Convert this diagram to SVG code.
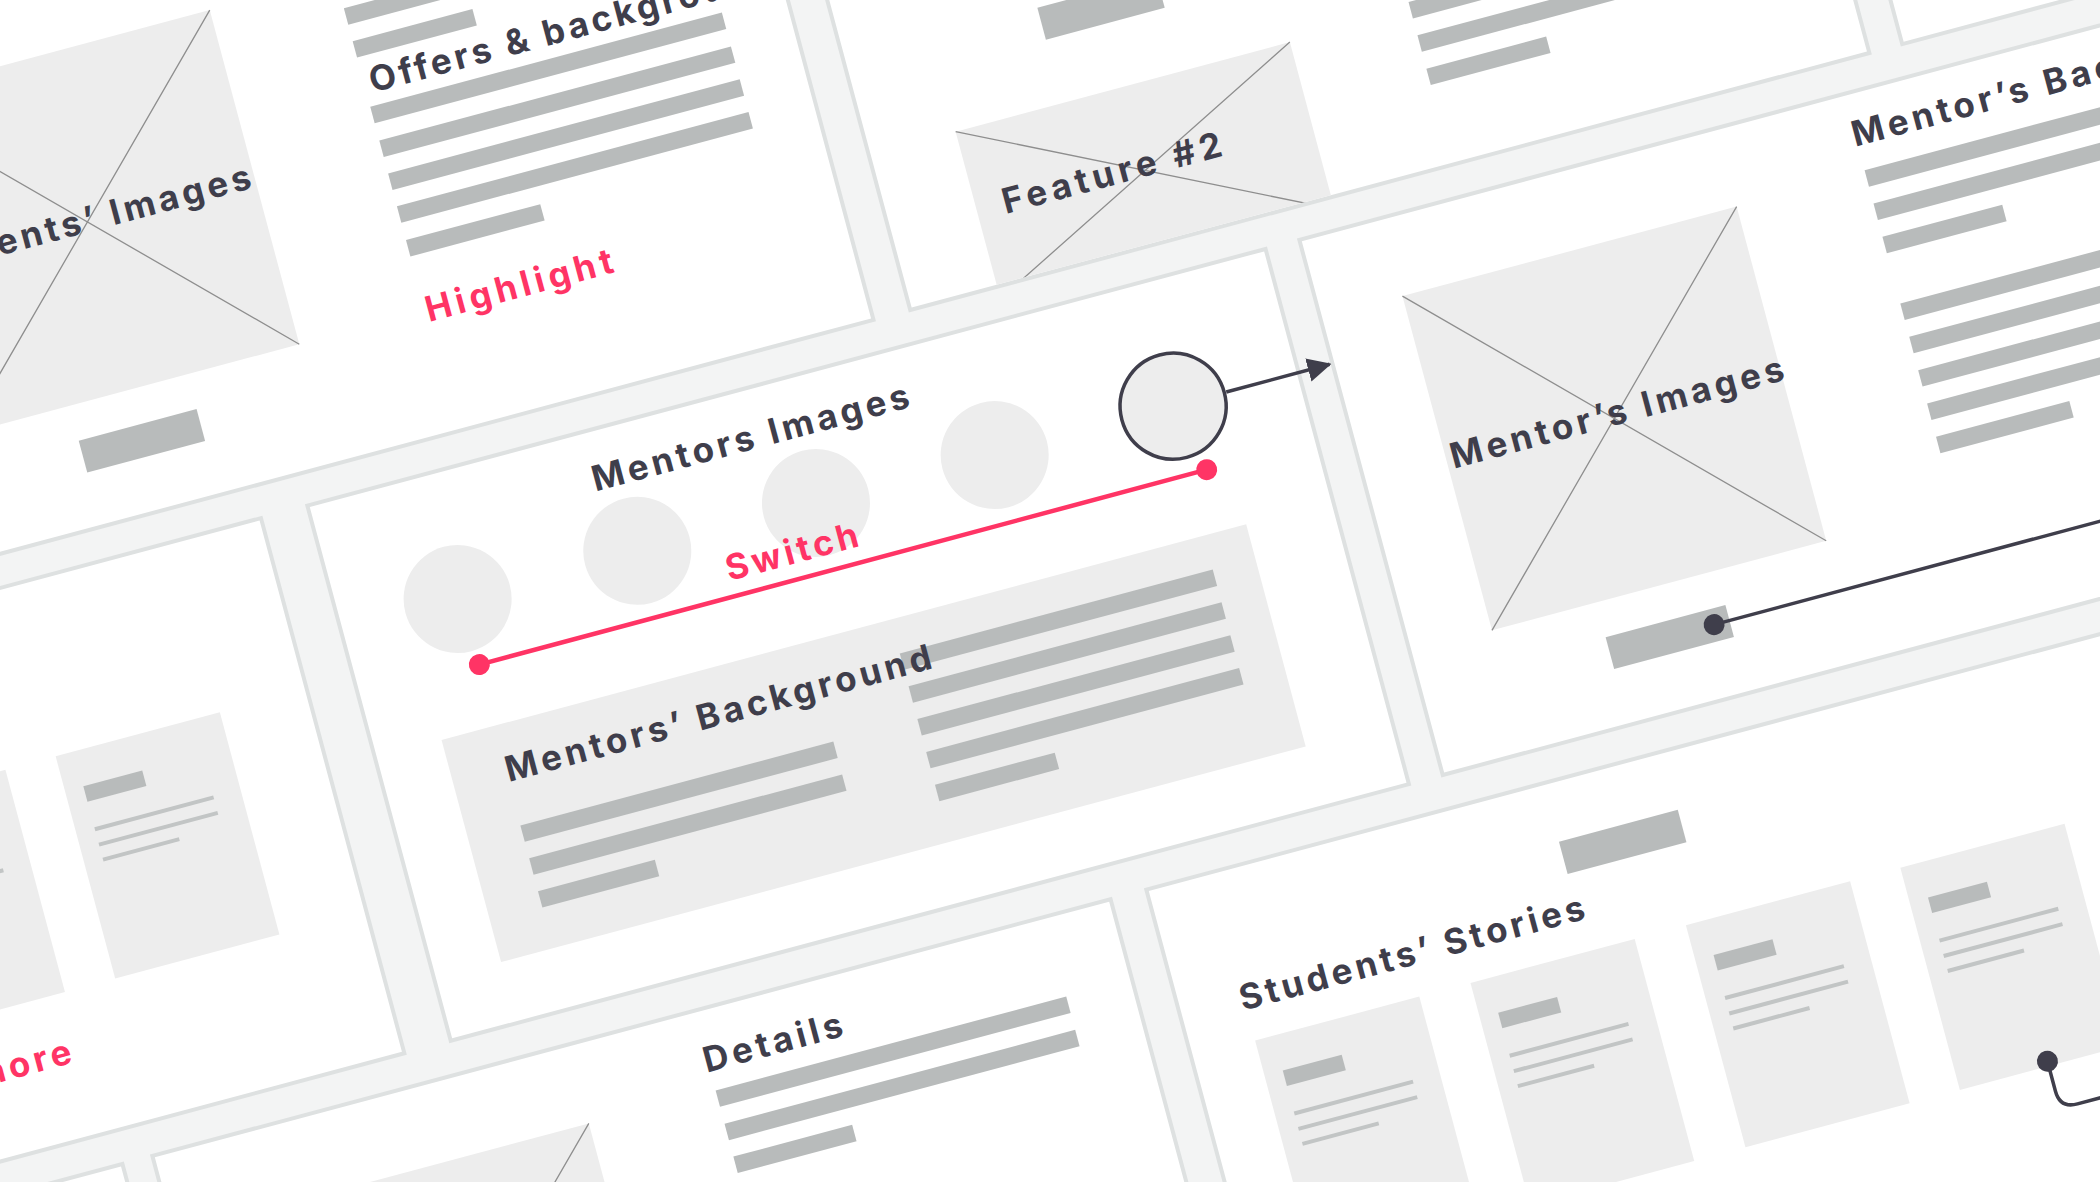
<svg xmlns="http://www.w3.org/2000/svg" width="2100" height="1182" viewBox="0 0 2100 1182">
  <style>
    .panel { fill: #ffffff; stroke: #dee1e1; stroke-width: 4; }
    .ph { fill: #ededed; }
    .cross { fill: none; stroke: #8e8e8e; stroke-width: 1.3; }
    .bar { fill: #b8bbbb; }
    .thin { fill: #c2c5c5; }
    .card { fill: #ededed; }
    .title { font-family: Inter, "Liberation Sans", sans-serif; font-weight: 700; font-size: 35px; fill: #3f3e4b; }
    .note { font-family: Inter, "Liberation Sans", sans-serif; font-weight: 700; font-size: 35px; fill: #ff3465; }
    .pink { fill: none; stroke: #ff3465; stroke-width: 4.5; stroke-linecap: round; }
    .dark { fill: none; stroke: #3f3e4b; stroke-width: 3.5; }
    .pinkdot { fill: #ff3465; }
    .darkdot { fill: #3f3e4b; }
  </style>
  <defs>
    <marker id="arrowhead" viewBox="0 0 24 24" refX="22" refY="12" markerWidth="24" markerHeight="24" markerUnits="userSpaceOnUse" orient="auto">
      <path d="M0,0 L24,12 L0,24 z" fill="#3f3e4b"/>
    </marker>
    <clipPath id="clip-feature">
      <rect x="801" y="-400" width="989" height="933"/>
    </clipPath>
  </defs>

  <!-- gutter colour behind all panels -->
  <rect x="0" y="0" width="2100" height="1182" fill="#f3f4f4"/>

  <!-- the whole board is tilted 15 degrees -->
  <g transform="rotate(-15)">

    <!-- top row -->
    <g id="panel-offers">
      <rect class="panel" x="-800" y="-400" width="1561" height="935"/>
      <rect class="ph" x="-146" y="64" width="346" height="346"/>
      <path class="cross" d="M-146 64 L200 410 M200 64 L-146 410"/>
      <text class="title" x="-162" y="247" textLength="358" lengthAdjust="spacing">Students’ Images</text>
      <rect class="bar" x="-38" y="446" width="122" height="33"/>
      <rect class="bar" x="330" y="97" width="364" height="17"/>
      <rect class="bar" x="330" y="131" width="124" height="17"/>
      <text class="title" x="336" y="186" textLength="417" lengthAdjust="spacing">Offers &amp; background</text>
      <rect class="bar" x="330" y="199" width="364" height="17"/>
      <rect class="bar" x="330" y="234" width="364" height="17"/>
      <rect class="bar" x="330" y="268" width="364" height="17"/>
      <rect class="bar" x="330" y="302" width="364" height="17"/>
      <rect class="bar" x="330" y="337" width="139" height="17"/>
      <text class="note" x="331" y="422" textLength="193" lengthAdjust="spacing">Highlight</text>
    </g>

    <g id="panel-feature">
      <rect class="panel" x="799" y="-400" width="993" height="935"/>
      <rect class="bar" x="1000" y="276" width="123" height="33"/>
      <g clip-path="url(#clip-feature)">
        <rect class="ph" x="889" y="374.5" width="346" height="173"/>
        <path class="cross" d="M889 374.5 L1235 547.5 M1235 374.5 L889 547.5"/>
      </g>
      <text class="title" x="916" y="467" textLength="226" lengthAdjust="spacing">Feature #2</text>
      <rect class="bar" x="1360" y="366.5" width="364" height="17"/>
      <rect class="bar" x="1360" y="401" width="364" height="17"/>
      <rect class="bar" x="1360" y="435.5" width="124" height="17"/>
    </g>

    <g id="panel-top-right">
      <rect class="panel" x="1826" y="-400" width="900" height="935"/>
    </g>

    <!-- middle row -->
    <g id="panel-listing">
      <rect class="panel" x="-800" y="568" width="918" height="554"/>
      <rect class="card" x="-364" y="745" width="170" height="230"/>
      <rect class="bar" x="-345" y="781" width="61" height="16"/>
      <rect class="thin" x="-345" y="823.5" width="123" height="4"/>
      <rect class="thin" x="-345" y="839.5" width="123" height="4"/>
      <rect class="thin" x="-345" y="855" width="79" height="4"/>
      <rect class="card" x="-142" y="745" width="170" height="230"/>
      <rect class="bar" x="-123" y="781" width="61" height="16"/>
      <rect class="thin" x="-123" y="823.5" width="123" height="4"/>
      <rect class="thin" x="-123" y="839.5" width="123" height="4"/>
      <rect class="thin" x="-123" y="855" width="79" height="4"/>
      <text class="note" x="-204" y="1045.5" text-anchor="end" textLength="100" lengthAdjust="spacing">more</text>
    </g>

    <g id="panel-mentors">
      <rect class="panel" x="166" y="568" width="992" height="554"/>
      <text class="title" x="448" y="629" textLength="327" lengthAdjust="spacing">Mentors Images</text>
      <circle class="ph" cx="287" cy="697" r="54"/>
      <circle class="ph" cx="473" cy="697" r="54"/>
      <circle class="ph" cx="658" cy="697" r="54"/>
      <circle class="ph" cx="843" cy="697" r="54"/>
      <circle class="ph" cx="1028" cy="696" r="53" stroke="#3f3e4b" stroke-width="3.5"/>
      <rect class="ph" x="235" y="829" width="833" height="230"/>
      <rect class="bar" x="700" y="864" width="324" height="17"/>
      <rect class="bar" x="700" y="898" width="324" height="17"/>
      <rect class="bar" x="700" y="932" width="324" height="17"/>
      <rect class="bar" x="700" y="966" width="324" height="17"/>
      <rect class="bar" x="700" y="1000" width="124" height="17"/>
      <rect class="bar" x="289" y="932" width="324" height="17"/>
      <rect class="bar" x="289" y="966" width="324" height="17"/>
      <rect class="bar" x="289" y="1000" width="121" height="17"/>
      <text class="title" x="289" y="887" textLength="440" lengthAdjust="spacing">Mentors’ Background</text>
    </g>

    <g id="panel-mentor-detail">
      <rect class="panel" x="1193" y="568" width="1300" height="554"/>
      <rect class="ph" x="1278" y="649" width="346" height="346"/>
      <path class="cross" d="M1278 649 L1624 995 M1624 649 L1278 995"/>
      <text class="title" x="1283" y="829" textLength="344" lengthAdjust="spacing">Mentor’s Images</text>
      <rect class="bar" x="1386" y="1031" width="124" height="33"/>
      <text class="title" x="1754" y="622" textLength="443" lengthAdjust="spacing">Mentor’s Background</text>
      <rect class="bar" x="1757" y="647" width="364" height="17"/>
      <rect class="bar" x="1757" y="681.5" width="364" height="17"/>
      <rect class="bar" x="1757" y="716" width="124" height="17"/>
      <rect class="bar" x="1757" y="785" width="364" height="17"/>
      <rect class="bar" x="1757" y="819.5" width="364" height="17"/>
      <rect class="bar" x="1757" y="854" width="364" height="17"/>
      <rect class="bar" x="1757" y="888.5" width="364" height="17"/>
      <rect class="bar" x="1757" y="923" width="138" height="17"/>
    </g>

    <!-- bottom row -->
    <g id="panel-bottom-left">
      <rect class="panel" x="-900" y="1156" width="717" height="800"/>
    </g>

    <g id="panel-details">
      <rect class="panel" x="-152" y="1156" width="992" height="800"/>
      <rect class="ph" x="-68" y="1237.5" width="346" height="346"/>
      <path class="cross" d="M-68 1237.5 L278 1583.5 M278 1237.5 L-68 1583.5"/>
      <text class="title" x="405" y="1219" textLength="143" lengthAdjust="spacing">Details</text>
      <rect class="bar" x="409" y="1238.5" width="363" height="17"/>
      <rect class="bar" x="409" y="1273" width="363" height="17"/>
      <rect class="bar" x="409" y="1307" width="123" height="17"/>
    </g>

    <g id="panel-stories">
      <rect class="panel" x="877" y="1156" width="1500" height="800"/>
      <rect class="bar" x="1288" y="1216.5" width="123" height="33.5"/>
      <text class="title" x="939" y="1298" textLength="356" lengthAdjust="spacing">Students’ Stories</text>
      <g id="story-card-1">
        <rect class="card" x="943" y="1330" width="170" height="230"/>
        <rect class="bar" x="962" y="1366" width="61" height="16"/>
        <rect class="thin" x="962" y="1408.5" width="123" height="4"/>
        <rect class="thin" x="962" y="1424.5" width="123" height="4"/>
        <rect class="thin" x="962" y="1440" width="79" height="4"/>
      </g>
      <g id="story-card-2">
        <rect class="card" x="1166" y="1330" width="170" height="230"/>
        <rect class="bar" x="1185" y="1366" width="61" height="16"/>
        <rect class="thin" x="1185" y="1408.5" width="123" height="4"/>
        <rect class="thin" x="1185" y="1424.5" width="123" height="4"/>
        <rect class="thin" x="1185" y="1440" width="79" height="4"/>
      </g>
      <g id="story-card-3">
        <rect class="card" x="1389" y="1330" width="170" height="230"/>
        <rect class="bar" x="1408" y="1366" width="61" height="16"/>
        <rect class="thin" x="1408" y="1408.5" width="123" height="4"/>
        <rect class="thin" x="1408" y="1424.5" width="123" height="4"/>
        <rect class="thin" x="1408" y="1440" width="79" height="4"/>
      </g>
      <g id="story-card-4">
        <rect class="card" x="1611" y="1330" width="170" height="230"/>
        <rect class="bar" x="1630" y="1366" width="61" height="16"/>
        <rect class="thin" x="1630" y="1408.5" width="123" height="4"/>
        <rect class="thin" x="1630" y="1424.5" width="123" height="4"/>
        <rect class="thin" x="1630" y="1440" width="79" height="4"/>
      </g>
    </g>

    <!-- interaction connectors -->
    <g id="connectors">
      <line class="pink" x1="291" y1="766" x2="1044" y2="766"/>
      <circle class="pinkdot" cx="291" cy="766" r="10.5"/>
      <circle class="pinkdot" cx="1044" cy="766" r="10.5"/>
      <text class="note" x="554" y="750" textLength="136" lengthAdjust="spacing">Switch</text>
      <line class="dark" x1="1083" y1="696" x2="1190" y2="696" marker-end="url(#arrowhead)"/>
      <line class="dark" x1="1494" y1="1047" x2="2400" y2="1047"/>
      <circle class="darkdot" cx="1494" cy="1047" r="10.5"/>
      <path class="dark" d="M1703 1555 V1586 Q1703 1604 1721 1604 H2300"/>
      <circle class="darkdot" cx="1703" cy="1555" r="10.5"/>
    </g>
  </g>
</svg>
